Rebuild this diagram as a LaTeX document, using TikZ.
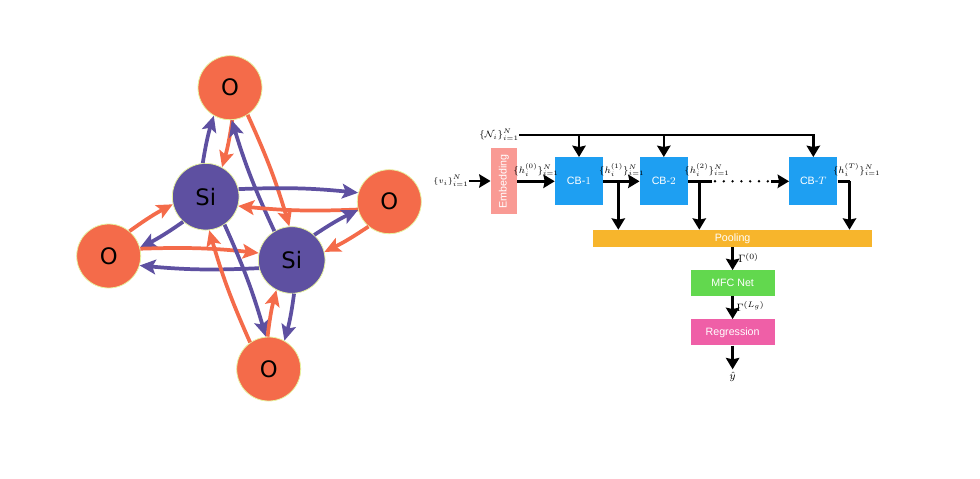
\documentclass[tikz,border=0pt]{standalone}
\usepackage{fontspec}
\setmainfont{Liberation Sans}
\newfontfamily\atomfont{DejaVu Sans}
\usetikzlibrary{arrows.meta}

\definecolor{oxygen}{HTML}{F46B4A}
\definecolor{silicon}{HTML}{5E50A1}
\definecolor{rim}{HTML}{E6F2A0}
\definecolor{embedcol}{HTML}{F99A94}
\definecolor{cbcol}{HTML}{1E9FF2}
\definecolor{poolcol}{HTML}{F7B52C}
\definecolor{mfccol}{HTML}{62D84E}
\definecolor{regcol}{HTML}{EF5FA7}

\tikzset{
    oatom/.style={circle, draw=rim, line width=0.6pt, fill=oxygen, minimum size=48pt, inner sep=0pt, font=\atomfont\fontsize{17}{17}\selectfont},
    siatom/.style={circle, draw=rim, line width=0.6pt, fill=silicon, minimum size=50pt, inner sep=0pt, font=\atomfont\fontsize{17}{17}\selectfont},
    bondO/.style={draw=oxygen, line width=2.8pt, -{Stealth[length=12pt,width=11pt,inset=2.5pt]}, bend left=4},
    bondSi/.style={draw=silicon, line width=2.8pt, -{Stealth[length=12pt,width=11pt,inset=2.5pt]}, bend left=4},
    block/.style={text=white, inner sep=0pt, font=\fontsize{8}{8}\selectfont},
    link/.style={line width=1.8pt, -{Stealth[length=8.5pt,width=10pt,inset=1pt]}},
    setlabel/.style={inner sep=0pt, font=\fontsize{7.2}{7.2}\selectfont},
    biglabel/.style={inner sep=0pt, font=\fontsize{8}{8}\selectfont},
}

\begin{document}
\begin{tikzpicture}[x=0.75pt,y=-0.75pt]
    \useasboundingbox (0,0) rectangle (980,478);

    \node[oatom] (otop) at (230,87.7) {O};
    \node[oatom] (oright) at (389.3,201.7) {O};
    \node[oatom] (oleft) at (108.7,256) {O};
    \node[oatom] (obot) at (268.7,369) {O};
    \node[siatom] (si1) at (205.7,196.7) {Si};
    \node[siatom] (si2) at (291.7,260) {Si};

    \draw[bondSi] (si1.95) to (otop.240);
    \draw[bondO] (otop.274) to (si1.61);
    \draw[bondSi] (si2.121) to (otop.273);
    \draw[bondO] (otop.303) to (si2.94);
    \draw[bondSi] (si1.13) to (oright.164);
    \draw[bondO] (oright.194) to (si1.344);
    \draw[bondSi] (si2.48) to (oright.195);
    \draw[bondO] (oright.230) to (si2.14);
    \draw[bondO] (oleft.50) to (si1.193);
    \draw[bondSi] (si1.228) to (oleft.15);
    \draw[bondO] (oleft.13) to (si2.168);
    \draw[bondSi] (si2.194) to (oleft.343);
    \draw[bondSi] (si1.304) to (obot.95);
    \draw[bondO] (obot.125) to (si1.276);
    \draw[bondO] (obot.92) to (si2.243);
    \draw[bondSi] (si2.274) to (obot.61);

    \node[block, fill=embedcol, minimum width=19.5pt, minimum height=49.5pt] (embed) at (503.8,181.3) {\rotatebox{90}{Embedding}};
    \node[block, fill=cbcol, minimum size=36pt] (cb1) at (579,181.3) {CB-$1$};
    \node[block, fill=cbcol, minimum size=36pt] (cb2) at (663.8,181.3) {CB-$2$};
    \node[block, fill=cbcol, minimum size=36pt] (cbT) at (813.3,181.3) {CB-$T$};
    \node[block, fill=poolcol, minimum width=209pt, minimum height=12.5pt] (pool) at (732.6,238.3) {Pooling};
    \node[block, fill=mfccol, minimum width=63pt, minimum height=19.3pt] (mfc) at (732.6,283.2) {MFC Net};
    \node[block, fill=regcol, minimum width=63pt, minimum height=19.5pt] (reg) at (732.6,332.3) {Regression};

    \node[setlabel, font=\fontsize{6.2}{6.2}\selectfont] (vset) at (451,181) {$\{v_i\}_{i=1}^N$};
    \node[setlabel] (nset) at (499,135) {$\{\mathcal{N}_i\}_{i=1}^N$};
    \node[setlabel] (h0) at (536,170) {$\{h_i^{(0)}\}_{i=1}^N$};
    \node[setlabel] (h1) at (621.7,170) {$\{h_i^{(1)}\}_{i=1}^N$};
    \node[setlabel] (h2) at (707,170) {$\{h_i^{(2)}\}_{i=1}^N$};
    \node[setlabel] (hT) at (856.7,170) {$\{h_i^{(T)}\}_{i=1}^N$};
    \node[biglabel] (g0) at (748.5,258) {$\Gamma^{(0)}$};
    \node[biglabel] (gL) at (750.5,306.5) {$\Gamma^{(L_g)}$};
    \node[biglabel, outer sep=2pt] (yhat) at (732.6,376.7) {$\hat{y}$};

    \coordinate (tap1) at (618.3,181.3);
    \coordinate (tap2) at (699.3,181.3);
    \coordinate (dotsA) at (715,181.3);
    \coordinate (dotsB) at (768,181.3);
    \coordinate (dotsC) at (771,181.3);
    \coordinate (tapT) at (849.5,181.3);

    \draw[link] (vset.east) -- (embed.west |- vset.east);
    \draw[link] (embed.east |- cb1) -- (cb1.west);
    \draw[link] (cb1.east) -- (cb2.west);
    \draw[link] (tap1) -- (tap1 |- pool.north);
    \draw[line width=1.8pt] (cb2.east) -- (711.7,181.3);
    \draw[link] (tap2) -- (tap2 |- pool.north);
    \draw[line width=2pt, line cap=round, dash pattern=on 0pt off 6.6pt] (dotsA) -- (dotsB);
    \draw[link] (dotsC) -- (cbT.west);
    \draw[line width=1.8pt] (cbT.east) -- (tapT);
    \draw[link] (tapT) -- (tapT |- pool.north);

    \draw[link] (nset.east) -| (cbT.north);
    \draw[link] (nset.east -| cb1.north) -- (cb1.north);
    \draw[link] (nset.east -| cb2.north) -- (cb2.north);

    \draw[link] (pool.south) -- (mfc.north);
    \draw[link] (mfc.south) -- (reg.north);
    \draw[link] (reg.south) -- (yhat.north);
\end{tikzpicture}
\end{document}
